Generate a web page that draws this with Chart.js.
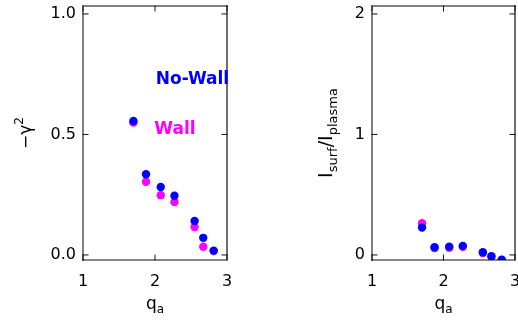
<!DOCTYPE html>
<html>
<head>
<meta charset="utf-8">
<script src="https://cdn.jsdelivr.net/npm/chart.js@4.4.1/dist/chart.umd.min.js"></script>
<style>
  html, body { margin: 0; padding: 0; background: #fff; }
  #wrap { position: relative; width: 518px; height: 323px; overflow: hidden; }
  canvas { position: absolute; top: -30px; }
</style>
</head>
<body>
<div id="wrap">
  <canvas id="growth" width="259" height="353" style="left:0"></canvas>
  <canvas id="current" width="289" height="353" style="left:259px"></canvas>
</div>
<script>
// q_a values shared by both panels
var qa = [1.70, 1.875, 2.08, 2.27, 2.55, 2.67, 2.815];

// left panel: -gamma^2
var growthNoWall = [0.556, 0.335, 0.282, 0.246, 0.141, 0.071, 0.018];
var growthWall   = [0.549, 0.304, 0.248, 0.220, 0.116, 0.034, 0.016];

// right panel: I_surf / I_plasma
var currentNoWall = [0.227, 0.064, 0.069, 0.075, 0.022, -0.011, -0.039];
var currentWall   = [0.263, 0.058, 0.060, 0.068, 0.016, -0.015, -0.041];

var xTicks = [1, 2, 3];
var growthTicks = [0, 0.5, 1];
var currentTicks = [0, 1, 2];

var BLUE = '#0000ff', MAGENTA = '#ff00ff';
var FONT = '"DejaVu Sans", sans-serif';

function pts(xs, ys) {
    return xs.map(function(x, i){ return {x: x, y: ys[i]}; });
}

// draw text made of pieces, some sub/superscripted
function richText(ctx, parts, size) {
    var w = 0;
    parts.forEach(function(p){
        ctx.font = (p.s ? Math.round(size * 0.68) : size) + 'px ' + FONT;
        p.w = ctx.measureText(p.t).width;
        w += p.w;
    });
    var x = -w / 2;
    parts.forEach(function(p){
        ctx.font = (p.s ? Math.round(size * 0.68) : size) + 'px ' + FONT;
        ctx.fillText(p.t, x, p.s || 0);
        x += p.w;
    });
}

// IDL-like box with inward ticks, titles and notes
var frame = {
    id: 'frame',
    afterDraw: function(chart, args, o) {
        var c = chart.ctx, a = chart.chartArea;
        var xs = chart.scales.x, ys = chart.scales.y;
        c.save();
        c.lineCap = 'square';
        c.strokeStyle = '#808080';
        c.lineWidth = 2;
        c.beginPath();
        c.moveTo(a.left, a.bottom); c.lineTo(a.left, a.top); c.lineTo(a.right, a.top);
        c.stroke();
        c.strokeStyle = '#111';
        c.lineWidth = 1.2;
        c.beginPath();
        c.moveTo(a.left, a.bottom); c.lineTo(a.right, a.bottom); c.lineTo(a.right, a.top);
        c.stroke();
        c.lineWidth = 1;
        c.beginPath();
        xs.ticks.forEach(function(t){
            var px = xs.getPixelForValue(t.value);
            c.moveTo(px, a.bottom); c.lineTo(px, a.bottom - 5);
            c.moveTo(px, a.top); c.lineTo(px, a.top + 5);
        });
        ys.ticks.forEach(function(t){
            var py = ys.getPixelForValue(t.value);
            c.moveTo(a.left, py); c.lineTo(a.left + 5, py);
            c.moveTo(a.right, py); c.lineTo(a.right - 5, py);
        });
        c.stroke();

        c.fillStyle = '#000';
        c.textBaseline = 'alphabetic';
        // x title
        c.save();
        c.translate((a.left + a.right) / 2, a.bottom + 49);
        richText(c, [{t: 'q'}, {t: 'a', s: 4}], 17);
        c.restore();
        // y title
        c.save();
        c.translate(o.yTitleX, (a.top + a.bottom) / 2);
        c.rotate(-Math.PI / 2);
        richText(c, o.yTitle, o.yTitleSize);
        c.restore();

        (o.notes || []).forEach(function(n){
            c.font = 'bold 17px ' + FONT;
            c.fillStyle = n.color;
            c.fillText(n.text, xs.getPixelForValue(n.x), ys.getPixelForValue(n.y));
        });
        c.restore();
    }
};

function makeChart(id, noWall, wall, yMin, yMax, yTicks, yFmt, yWidth, padRight, plug) {
    return new Chart(document.getElementById(id).getContext('2d'), {
        type: 'scatter',
        data: {
            datasets: [{
                label: 'No-Wall',
                data: pts(qa, noWall),
                backgroundColor: BLUE,
                borderWidth: 0,
                pointRadius: 4.2
            }, {
                label: 'Wall',
                data: pts(qa, wall),
                backgroundColor: MAGENTA,
                borderWidth: 0,
                pointRadius: 4.2
            }]
        },
        options: {
            responsive: false,
            animation: false,
            layout: { padding: { top: 36, right: padRight, left: 0, bottom: 0 } },
            plugins: { legend: { display: false }, tooltip: { enabled: false }, frame: plug },
            scales: {
                x: {
                    type: 'linear', min: 1, max: 3,
                    afterBuildTicks: function(s){ s.ticks = xTicks.map(function(v){ return {value: v}; }); },
                    afterFit: function(s){ s.height = 63; },
                    grid: { display: false, drawTicks: false },
                    border: { display: false },
                    ticks: { color: '#000', padding: 12, maxRotation: 0, font: { family: FONT, size: 16 } }
                },
                y: {
                    type: 'linear', min: yMin, max: yMax,
                    afterBuildTicks: function(s){ s.ticks = yTicks.map(function(v){ return {value: v}; }); },
                    afterFit: function(s){ s.width = yWidth; },
                    grid: { display: false, drawTicks: false },
                    border: { display: false },
                    ticks: { color: '#000', padding: 7, font: { family: FONT, size: 16 }, callback: yFmt }
                }
            }
        },
        plugins: [frame]
    });
}

makeChart('growth', growthNoWall, growthWall, -0.021, 1.033, growthTicks,
    function(v){ return v.toFixed(1); }, 83, 32,
    {
        yTitleX: 31,
        yTitleSize: 17,
        yTitle: [{t: '\u2212\u03b3'}, {t: '2', s: -8}],
        notes: [
            {text: 'No-Wall', color: BLUE, x: 2.01, y: 0.71},
            {text: 'Wall', color: MAGENTA, x: 1.99, y: 0.50}
        ]
    });

makeChart('current', currentNoWall, currentWall, -0.042, 2.066, currentTicks,
    function(v){ return String(v); }, 113, 33,
    {
        yTitleX: 73,
        yTitleSize: 19,
        yTitle: [{t: 'I'}, {t: 'surf', s: 5}, {t: '/'}, {t: 'I'}, {t: 'plasma', s: 5}]
    });
</script>
</body>
</html>
